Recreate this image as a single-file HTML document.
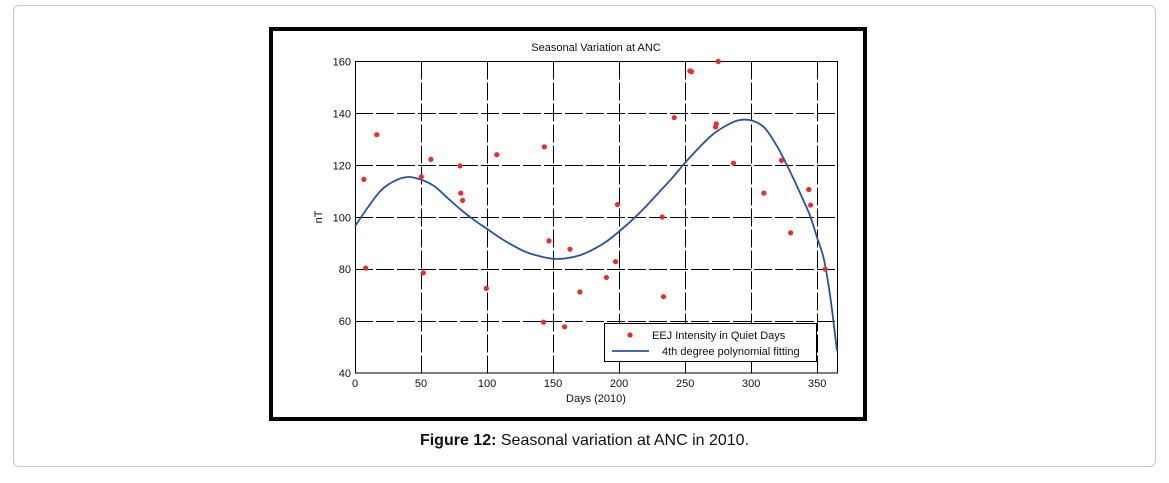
<!DOCTYPE html>
<html><head><meta charset="utf-8"><style>
html,body{margin:0;padding:0;background:#fff;width:1169px;height:483px;overflow:hidden;font-family:"Liberation Sans",Arial,sans-serif}
#frame{position:absolute;left:13px;top:5px;width:1143px;height:462px;border:1px solid #c8c8c8;border-radius:6px;box-sizing:border-box}
#caption{position:absolute;left:0;width:1169px;top:432px;text-align:center;font-size:16px;color:#111}
</style></head><body>
<div id="frame"></div>
<svg id="chart" width="1169" height="483" style="position:absolute;left:0;top:0"></svg>
<div id="caption"><b>Figure 12:</b> Seasonal variation at ANC in 2010.</div>
<script>
const xTicks=[0,50,100,150,200,250,300,350];
const yTicks=[40,60,80,100,120,140,160];
const days=[6.7,8.1,16.5,50.2,51.7,57.5,79.5,80.1,81.5,99.5,107.4,142.8,143.4,146.9,158.7,162.8,170.3,190.4,197.3,198.8,232.7,233.6,241.7,253.6,254.8,273.1,273.6,275.1,286.7,309.6,323.0,329.9,343.6,345.0,356.1];
const eej=[114.6,80.4,131.8,115.6,78.6,122.3,119.8,109.3,106.5,72.6,124.1,59.6,127.1,90.9,57.8,87.7,71.2,76.8,82.9,104.9,100.1,69.4,138.4,156.4,156.1,134.8,136.0,160,120.8,109.3,121.9,94.0,110.7,104.7,80.0];
const fitDays=[0,10,20,30,40,50,60,70,80,90,100,110,120,130,140,150,160,170,180,190,200,210,220,230,240,250,260,270,280,290,300,310,320,330,340,345,350,355,360,365];
const fitVals=[96.5,104,110.5,114,115.5,114.5,112,107.5,103,99,95.5,92,89,86.5,85,84,84.2,85.3,87.5,90.5,94.5,99,104,109.5,115,121,126.5,131.5,135,137.3,137.3,134.5,127,117,106,100,92,84,69,48.5];
const NS='http://www.w3.org/2000/svg';
const svg=document.getElementById('chart');
const L=355,R=837,T=61.5,B=373;
const xMin=0,xMax=365,yMin=40,yMax=160;
const sx=v=>L+(v-xMin)/(xMax-xMin)*(R-L);
const sy=v=>B-(v-yMin)/(yMax-yMin)*(B-T);
function el(t,a,p){const e=document.createElementNS(NS,t);for(const k in a)e.setAttribute(k,a[k]);(p||svg).appendChild(e);return e;}
const box=el('rect',{x:271,y:29,width:594,height:390,fill:'#fff',stroke:'#000','stroke-width':4});


const tt=el('text',{x:596,y:51,'text-anchor':'middle','font-size':11,fill:'#111'});
tt.textContent='Seasonal Variation at ANC';


for(const v of xTicks){const x=Math.round(sx(v))+0.5;
 if(v>0){const g=el('line',{x1:x,x2:x,y1:T,y2:B,stroke:'#000','stroke-width':1,'stroke-dasharray':'18,3'});
 
 }
 const t=el('text',{x:sx(v),y:B+14,'text-anchor':'middle','font-size':11,fill:'#111'});t.textContent=v;
 
 }
for(const v of yTicks){const y=Math.round(sy(v))+0.5;
 if(v>yMin&&v<yMax){const g=el('line',{x1:L,x2:R,y1:y,y2:y,stroke:'#000','stroke-width':1,'stroke-dasharray':'18,3'});
 
 }
 const t=el('text',{x:L-4,y:sy(v)+4,'text-anchor':'end','font-size':11,fill:'#111'});t.textContent=v;
 
 }
const ax=el('rect',{x:L+0.5,y:T,width:R-L,height:B-T,fill:'none',stroke:'#000','stroke-width':1});


const xl=el('text',{x:596,y:402,'text-anchor':'middle','font-size':11,fill:'#111'});xl.textContent='Days (2010)';


const yl=el('text',{x:0,y:0,'text-anchor':'middle','font-size':11,fill:'#111',transform:'translate(322,217) rotate(-90)'});yl.textContent='nT';


// smooth curve (catmull-rom)
const pts=fitDays.map((v,i)=>[sx(v),sy(fitVals[i])]);
let d='M'+pts[0][0].toFixed(1)+','+pts[0][1].toFixed(1);
for(let i=0;i<pts.length-1;i++){const p0=pts[Math.max(i-1,0)],p1=pts[i],p2=pts[i+1],p3=pts[Math.min(i+2,pts.length-1)];
 const c1=[p1[0]+(p2[0]-p0[0])/6,p1[1]+(p2[1]-p0[1])/6],c2=[p2[0]-(p3[0]-p1[0])/6,p2[1]-(p3[1]-p1[1])/6];
 d+='C'+c1.map(n=>n.toFixed(1)).join(',')+' '+c2.map(n=>n.toFixed(1)).join(',')+' '+p2.map(n=>n.toFixed(1)).join(',');}
const c=el('path',{d:d,fill:'none',stroke:'#2952a3','stroke-width':1.8,'stroke-linejoin':'round'});


days.forEach((v,i)=>{const p=el('circle',{cx:sx(v),cy:sy(eej[i]),r:2.6,fill:'#ee2a2a'});
 
 });
const lg=el('g',{});


el('rect',{x:604.5,y:323.5,width:212,height:38,fill:'#fff',stroke:'#000','stroke-width':1},lg);
el('circle',{cx:630,cy:335,r:2.6,fill:'#ee2a2a'},lg);
const t1=el('text',{x:652,y:339,'font-size':11,fill:'#111'},lg);t1.textContent='EEJ Intensity in Quiet Days';


el('line',{x1:612,x2:649,y1:351,y2:351,stroke:'#2952a3','stroke-width':1.8},lg);
const t2=el('text',{x:662,y:355,'font-size':11,fill:'#111'},lg);t2.textContent='4th degree polynomial fitting';


</script>
</body></html>
